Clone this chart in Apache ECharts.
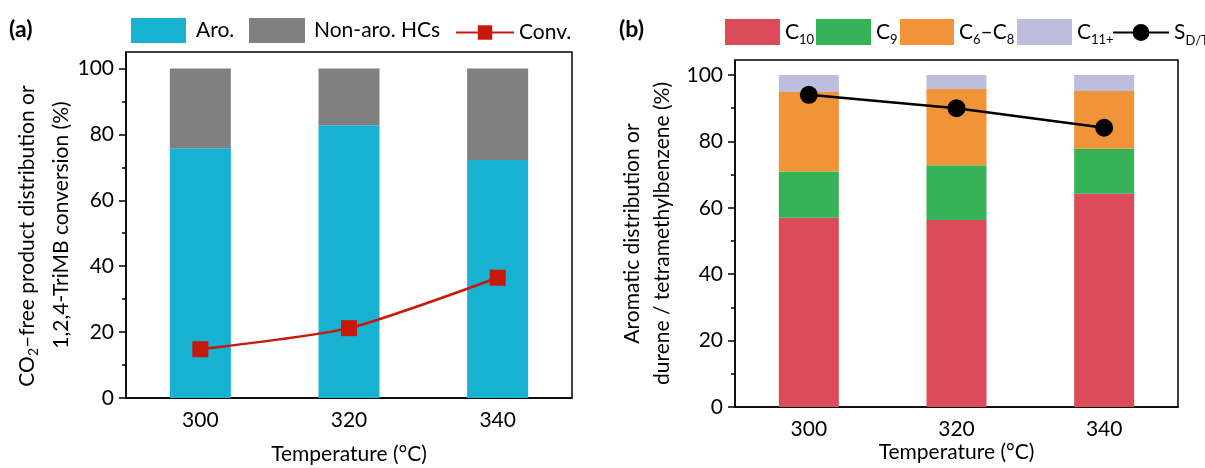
<!DOCTYPE html>
<html><head><meta charset="utf-8">
<script src="https://cdn.jsdelivr.net/npm/echarts@6/dist/echarts.min.js"></script>
<style>html,body{margin:0;padding:0;background:#fff}#c{width:1205px;height:468px}</style>
</head><body><div id="c"></div>
<script>
// ---- data ----
const categories = ['300', '320', '340'];
const aro = [75.8, 82.8, 72.2];
const nonAro = [24.2, 17.2, 27.8];
const conv = [14.8, 21.2, 36.5];
const c10 = [57.0, 56.3, 64.2];
const c9 = [13.9, 16.5, 13.6];
const c6c8 = [24.0, 23.0, 17.4];
const c11 = [5.1, 4.2, 4.8];
const sdt = [94.0, 90.0, 84.1];
const majorTicks = [0, 20, 40, 60, 80, 100];
const minorTicks = [10, 30, 50, 70, 90];

const FONT = 'Lato';
const FS = 21;
const BLACK = '#000';
const rich = {
  t: { fontSize: FS, fontFamily: FONT, color: BLACK, lineHeight: 24 },
  s: { fontSize: 14, fontFamily: FONT, color: BLACK, lineHeight: 14, padding: [12, 0, 0, 0] }
};
const legendLabels = {
  'C10': '{t|C}{s|10}',
  'C9': '{t|C}{s|9}',
  'C6–C8': '{t|C}{s|6}{t|–C}{s|8}',
  'C11+': '{t|C}{s|11+}',
  'S_D/T': '{t|S}{s|D/T}'
};
const legRich = {
  t: { fontSize: FS, fontFamily: FONT, color: BLACK },
  s: { fontSize: 13, fontFamily: FONT, color: BLACK, padding: [16, 0, 0, 0] }
};

function xAxis(gi, gap) {
  return {
    type: 'category', gridIndex: gi, data: categories,
    axisLine: { lineStyle: { color: BLACK, width: 1.5 } },
    axisTick: { alignWithLabel: true, length: 6, lineStyle: { color: BLACK, width: 1.5 } },
    axisLabel: { fontSize: FS, fontFamily: FONT, color: BLACK, margin: 12 },
    name: 'Temperature (°C)', nameLocation: 'middle', nameGap: gap, nameMoveOverlap: false,
    nameTextStyle: { fontSize: FS, fontFamily: FONT, color: BLACK }
  };
}
function yMajor(gi, max, name, gap, shift) {
  return {
    type: 'value', gridIndex: gi, min: 0, max: max, position: 'left',
    axisLine: { show: true, lineStyle: { color: BLACK, width: 1.5 } },
    axisTick: { show: true, customValues: majorTicks, length: 7, lineStyle: { color: BLACK, width: 1.5 } },
    axisLabel: { customValues: majorTicks, fontSize: FS, fontFamily: FONT, color: BLACK, margin: 12 },
    splitLine: { show: false },
    name: name, nameLocation: 'middle', nameGap: gap, nameMoveOverlap: false,
    nameTextStyle: { rich: rich, fontSize: FS, fontFamily: FONT, color: BLACK, padding: [0, shift, 0, 0] }
  };
}
function yMinor(gi, max, name, gap, shift) {
  return {
    type: 'value', gridIndex: gi, min: 0, max: max, position: 'left', offset: 0,
    axisLine: { show: false },
    axisTick: { show: true, customValues: minorTicks, length: 4, lineStyle: { color: BLACK, width: 1.5 } },
    axisLabel: { show: false },
    splitLine: { show: false },
    name: name, nameLocation: 'middle', nameGap: gap, nameMoveOverlap: false,
    nameTextStyle: { rich: rich, fontSize: FS, fontFamily: FONT, color: BLACK, padding: [0, shift, 0, 0] }
  };
}
function leg(name, left, top, w, h, icon, pad) {
  const l = { data: [name], left: left, top: top, padding: 0, itemWidth: w, itemHeight: h, selectedMode: false,
    formatter: n => legendLabels[n] || n,
    textStyle: { rich: legRich, fontSize: FS, fontFamily: FONT, color: BLACK, padding: [0, 0, 0, pad || 0] } };
  if (icon) l.icon = icon;
  return l;
}

const chart = echarts.init(document.getElementById('c'), null, { renderer: 'canvas' });
chart.setOption({
  animation: false,
  textStyle: { fontFamily: FONT },
  title: [
    { text: '(a)', left: 9, top: 18, padding: 0, textStyle: { fontSize: 23, fontWeight: 'bold', fontFamily: FONT, color: BLACK } },
    { text: '(b)', left: 619, top: 18, padding: 0, textStyle: { fontSize: 23, fontWeight: 'bold', fontFamily: FONT, color: BLACK } }
  ],
  legend: [
    leg('Aro.', 131, 18, 55, 25, 'rect', 5),
    leg('Non-aro. HCs', 249, 18, 56, 25, 'rect', 4),
    leg('Conv.', 455, 22, 58, 18),
    leg('C10', 725, 19, 55, 26, 'rect'),
    leg('C9', 816, 19, 55, 26, 'rect'),
    leg('C6–C8', 900, 19, 54, 26, 'rect'),
    leg('C11+', 1017, 19, 55, 26, 'rect'),
    leg('S_D/T', 1112, 22, 56, 21)
  ],
  grid: [
    { left: 126, top: 52, width: 446, height: 346, show: true, borderColor: BLACK, borderWidth: 1.5, outerBoundsMode: 'none', containLabel: false },
    { left: 735, top: 60, width: 443, height: 347, show: true, borderColor: BLACK, borderWidth: 1.5, outerBoundsMode: 'none', containLabel: false }
  ],
  xAxis: [xAxis(0, 46), xAxis(1, 35)],
  yAxis: [
    yMajor(0, 105, '{t|CO}{s|2}{t|–free product distribution or}', 87, 22),
    yMinor(0, 105, '{t|1,2,4-TriMB conversion (%)}', 53, 0),
    yMajor(1, 104.5, '{t|Aromatic distribution or}', 91, 0),
    yMinor(1, 104.5, '{t|durene / tetramethylbenzene (%)}', 61, 0)
  ],
  series: [
    { type: 'bar', name: 'Aro.', stack: 'a', xAxisIndex: 0, yAxisIndex: 0, data: aro, barWidth: 61, itemStyle: { color: '#17B1D2' } },
    { type: 'bar', name: 'Non-aro. HCs', stack: 'a', xAxisIndex: 0, yAxisIndex: 0, data: nonAro, barWidth: 61, itemStyle: { color: '#808080' } },
    { type: 'line', name: 'Conv.', xAxisIndex: 0, yAxisIndex: 0, data: conv, smooth: 0.2, symbol: 'rect', symbolSize: 16,
      itemStyle: { color: '#C8180A' }, lineStyle: { color: '#C8180A', width: 2.5 }, z: 5 },
    { type: 'bar', name: 'C10', stack: 'b', xAxisIndex: 1, yAxisIndex: 2, data: c10, barWidth: 60, itemStyle: { color: '#DC4B5A' } },
    { type: 'bar', name: 'C9', stack: 'b', xAxisIndex: 1, yAxisIndex: 2, data: c9, barWidth: 60, itemStyle: { color: '#36B357' } },
    { type: 'bar', name: 'C6–C8', stack: 'b', xAxisIndex: 1, yAxisIndex: 2, data: c6c8, barWidth: 60, itemStyle: { color: '#F09339' } },
    { type: 'bar', name: 'C11+', stack: 'b', xAxisIndex: 1, yAxisIndex: 2, data: c11, barWidth: 60, itemStyle: { color: '#BDBEDD' } },
    { type: 'line', name: 'S_D/T', xAxisIndex: 1, yAxisIndex: 2, data: sdt, symbol: 'circle', symbolSize: 18,
      itemStyle: { color: BLACK }, lineStyle: { color: BLACK, width: 2.5 }, z: 5 }
  ]
});
</script>
</body></html>
